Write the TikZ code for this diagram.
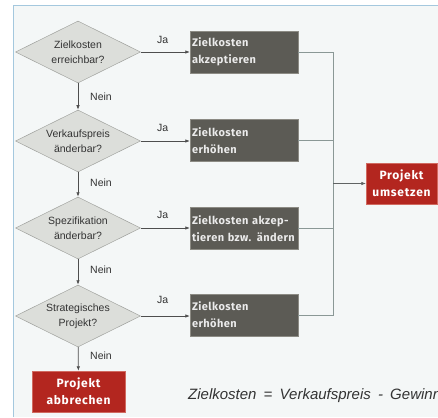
\documentclass[tikz,border=0pt]{standalone}
\usepackage{fontspec}
\setmainfont{Liberation Sans}
\newfontfamily\boxfont[LetterSpace=4]{Fira Sans}
\newfontfamily\redfont[LetterSpace=6]{Fira Sans}
\usetikzlibrary{shapes.geometric,arrows.meta}
\definecolor{framecol}{HTML}{A4C8DE}
\definecolor{bgcol}{HTML}{F4F7F7}
\definecolor{diafill}{HTML}{DCDEDA}
\definecolor{diadraw}{HTML}{A0A29E}
\definecolor{boxfill}{HTML}{5C5B55}
\definecolor{boxdraw}{HTML}{8C8B84}
\definecolor{redfill}{HTML}{B3261F}
\definecolor{reddraw}{HTML}{D06A60}
\definecolor{linecol}{HTML}{4E4E4E}
\definecolor{mergecol}{HTML}{8A9896}
\definecolor{txtcol}{HTML}{333333}
\tikzset{
  decision/.style={shape=diamond, aspect=2, draw=diadraw, fill=diafill, line width=0.5pt,
    inner sep=0pt, minimum width=125pt, minimum height=62pt, align=center,
    font=\fontsize{10.5}{15}\selectfont, text=txtcol},
  graybox/.style={draw=boxdraw, fill=boxfill, line width=0.4pt, minimum width=108pt,
    minimum height=42pt, text width=104pt, align=left, inner sep=2pt,
    font=\boxfont\bfseries\fontsize{11}{17}\selectfont, text=white!92!black},
  redbox/.style={draw=reddraw, fill=redfill, line width=0.4pt, minimum height=41pt,
    align=center, inner sep=2pt, font=\redfont\bfseries\fontsize{12}{17}\selectfont, text=white},
  flow/.style={draw=linecol, line width=0.7pt, -{Latex[length=4.5pt,width=3.5pt]}},
  merge/.style={draw=mergecol, line width=0.6pt},
  lbl/.style={font=\fontsize{10.5}{12}\selectfont, text=txtcol, inner sep=0pt}
}
\begin{document}
\begin{tikzpicture}[x=1pt,y=-1pt]
\useasboundingbox (0,0) rectangle (438,417);
\fill[white] (0,0) rectangle (438,417);
\fill[bgcol] (13,5) rectangle (438,417);
\draw[framecol, line width=0.8pt] (13,417) -- (13,5) -- (438,5);

\node[decision] (d1) at (78,52) {Zielkosten\\erreichbar?};
\node[decision] (d2) at (78,141) {Verkaufspreis\\änderbar?};
\node[decision] (d3) at (78,228) {Spezifikation\\änderbar?};
\node[decision] (d4) at (78,316) {Strategisches\\Projekt?};
\node[redbox, minimum width=93pt] (abbr) at (78.5,391.5) {Projekt\\abbrechen};

\node[graybox] (g1) at (244,52) {Zielkosten\\akzeptieren};
\node[graybox] (g2) at (244,140.5) {Zielkosten\\erhöhen};
\node[graybox] (g3) at (244,228.5) {\mbox{Zielkosten akzep-}\\\mbox{tieren bzw. ändern}};
\node[graybox] (g4) at (244,315) {Zielkosten\\erhöhen};

\node[redbox, minimum width=71pt] (ums) at (401.5,183.5) {Projekt\\umsetzen};
\coordinate (m) at (333,183.5);

\draw[flow] (d1) -- (d2);
\draw[flow] (d2) -- (d3);
\draw[flow] (d3) -- (d4);
\draw[flow] (d4) -- (abbr);
\draw[flow] (d1) -- (g1);
\draw[flow] (d2.east) -- (d2.east -| g2.west);
\draw[flow] (d3.east) -- (d3.east -| g3.west);
\draw[flow] (d4.east) -- (d4.east -| g4.west);

\draw[merge] (g1.east) -| (m);
\draw[merge] (g2.east) -| (m);
\draw[merge] (g3.east) -| (m);
\draw[merge] (g4.east) -| (m);
\draw[merge, -{Latex[length=4.5pt,width=3.5pt]}, draw=linecol!70!mergecol] (m) -- (ums);

\node[lbl, anchor=west] (j1) at (157,40) {Ja};
\node[lbl, anchor=west] (j2) at (157,128) {Ja};
\node[lbl, anchor=west] (j3) at (157,215) {Ja};
\node[lbl, anchor=west] (j4) at (157,300) {Ja};
\node[lbl, anchor=west] (n1) at (90,97) {Nein};
\node[lbl, anchor=west] (n2) at (90,183) {Nein};
\node[lbl, anchor=west] (n3) at (90,270) {Nein};
\node[lbl, anchor=west] (n4) at (90,356) {Nein};

\node[anchor=west, inner sep=0pt, font=\itshape\fontsize{15}{17}\selectfont, text=txtcol] (cap) at (188,396) {\spaceskip=7.2pt\relax Zielkosten = Verkaufspreis - Gewinn};
\end{tikzpicture}
\end{document}
